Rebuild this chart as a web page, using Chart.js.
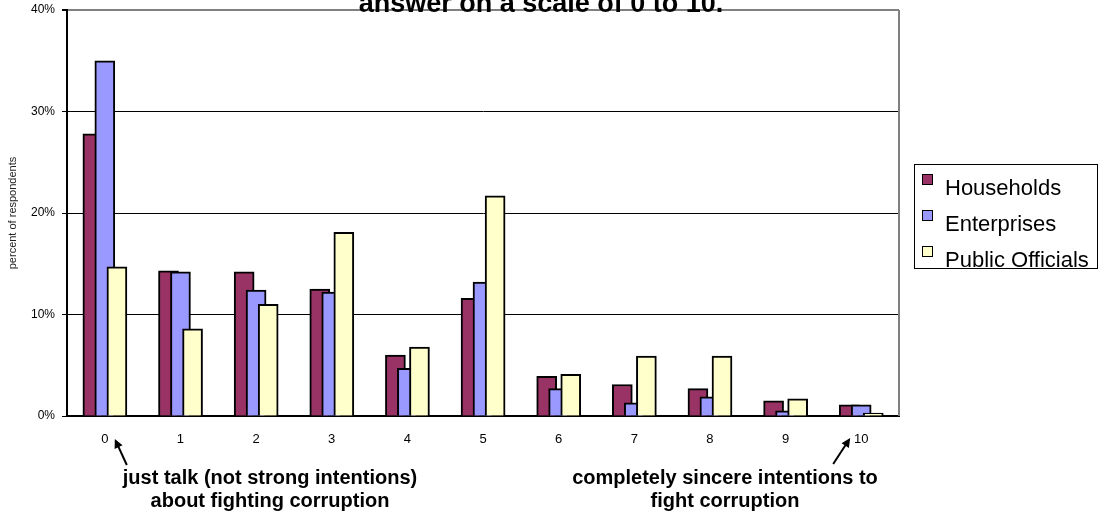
<!DOCTYPE html>
<html>
<head>
<meta charset="utf-8">
<script src="https://cdn.jsdelivr.net/npm/chart.js@4.4.1/dist/chart.umd.min.js"></script>
<style>
  body { margin: 0; background: #fff; }
  #wrap { position: relative; width: 1104px; height: 517px; }
  #legend {
    position: absolute; left: 914px; top: 164px; width: 182px; height: 103px;
    border: 1.5px solid #000; font-family: "Liberation Sans", Arial, sans-serif;
    font-size: 22px; color: #000;
  }
  .item { position: absolute; left: 0; white-space: nowrap; }
  .item span.box {
    position: absolute; left: 7px; top: 0; width: 9px; height: 9px;
    border: 1.5px solid #000;
  }
  .item span.txt { position: absolute; left: 30px; top: 3px; line-height: 22px; }
</style>
</head>
<body>
<div id="wrap">
  <canvas id="barChart" width="1104" height="517"></canvas>
  <div id="legend"></div>
</div>
<script>
// scale points 0..10
const categories = ['0', '1', '2', '3', '4', '5', '6', '7', '8', '9', '10'];

// percent of respondents
const households  = [27.8, 14.3, 14.2, 12.5, 6.0, 11.6, 3.9, 3.1, 2.7, 1.5, 1.1];
const enterprises = [35.0, 14.2, 12.4, 12.2, 4.7, 13.2, 2.7, 1.3, 1.9, 0.5, 1.1];
const officials   = [14.7,  8.6, 11.0, 18.1, 6.8, 21.7, 4.1, 5.9, 5.9, 1.7, 0.3];

const seriesNames  = ['Households', 'Enterprises', 'Public Officials'];
const seriesColors = ['#993366', '#9999FF', '#FFFFCC'];
const yTicks = [0, 10, 20, 30, 40];

const FONT = '"Liberation Sans", Arial, sans-serif';

// bars overlap like the old excel chart, later series on top
function makeSet(name, values, color, shift, order) {
	return {
		label: name,
		data: values.map((v, i) => ({ x: i + shift, y: v })),
		backgroundColor: color,
		borderColor: '#000',
		borderWidth: 2,
		barThickness: 20,
		grouped: false,
		order: order
	};
}

const frame = {
	id: 'frame',
	afterDraw(chart) {
		const { ctx, chartArea: a } = chart;
		ctx.save();
		// right edge of the plot area
		ctx.strokeStyle = '#808080';
		ctx.lineWidth = 2;
		ctx.beginPath();
		ctx.moveTo(a.right, a.top);
		ctx.lineTo(a.right, a.bottom);
		ctx.stroke();

		// title, only its last line is left in the picture
		ctx.fillStyle = '#000';
		ctx.font = 'bold 27px ' + FONT;
		ctx.textAlign = 'center';
		ctx.textBaseline = 'alphabetic';
		ctx.fillText('answer on a scale of 0 to 10.', 541, 12);

		// notes under the axis
		ctx.font = 'bold 20px ' + FONT;
		ctx.textBaseline = 'middle';
		ctx.fillText('just talk (not strong intentions)', 270, 478);
		ctx.fillText('about fighting corruption', 270, 501);
		ctx.fillText('completely sincere intentions to', 725, 478);
		ctx.fillText('fight corruption', 725, 501);

		const x = chart.scales.x;
		arrow(ctx, x.getPixelForValue(0) + 22, 465, x.getPixelForValue(0) + 10, 439);
		arrow(ctx, x.getPixelForValue(10) - 28, 464, x.getPixelForValue(10) - 11, 438);
		ctx.restore();
	}
};

function arrow(ctx, x0, y0, x1, y1) {
	const ang = Math.atan2(y1 - y0, x1 - x0);
	const len = 10;
	ctx.strokeStyle = '#000';
	ctx.lineWidth = 2;
	ctx.beginPath();
	ctx.moveTo(x0, y0);
	ctx.lineTo(x1 - Math.cos(ang) * 6, y1 - Math.sin(ang) * 6);
	ctx.stroke();
	ctx.beginPath();
	ctx.moveTo(x1, y1);
	ctx.lineTo(x1 - len * Math.cos(ang - 0.45), y1 - len * Math.sin(ang - 0.45));
	ctx.lineTo(x1 - len * Math.cos(ang + 0.45), y1 - len * Math.sin(ang + 0.45));
	ctx.closePath();
	ctx.fillStyle = '#000';
	ctx.fill();
}

let ctx = document.getElementById('barChart');
let barChart = new Chart(ctx, {
	type: 'bar',
	data: {
		datasets: [
			makeSet(seriesNames[0], households, seriesColors[0], -0.158, 3),
			makeSet(seriesNames[1], enterprises, seriesColors[1], 0, 2),
			makeSet(seriesNames[2], officials, seriesColors[2], 0.16, 1)
		]
	},
	options: {
		responsive: false,
		animation: false,
		layout: { padding: { left: 0, right: 205, top: 10, bottom: 0 } },
		plugins: {
			legend: { display: false },
			tooltip: { enabled: false }
		},
		scales: {
			x: {
				type: 'linear',
				offset: false,
				min: -0.5,
				max: categories.length - 0.5,
				afterBuildTicks: (s) => { s.ticks = categories.map((c, i) => ({ value: i })); },
				afterFit: (s) => { s.height = 101; },
				grid: { display: false },
				border: { display: true, color: '#000', width: 2 },
				ticks: {
					autoSkip: false,
					maxRotation: 0,
					padding: 8,
					color: '#000',
					font: { family: FONT, size: 13 },
					callback: (v) => categories[v]
				}
			},
			y: {
				min: 0,
				max: 40,
				afterBuildTicks: (s) => { s.ticks = yTicks.map(v => ({ value: v })); },
				afterFit: (s) => { s.width = 67; s.paddingTop = 0; s.paddingBottom = 0; },
				grid: {
					color: (c) => c.tick && c.tick.value === 40 ? '#808080' : '#000',
					lineWidth: (c) => c.tick && c.tick.value === 40 ? 2 : 1,
					tickLength: 5,
					tickColor: '#000'
				},
				border: { display: true, color: '#000', width: 2 },
				ticks: {
					padding: 7,
					color: '#000',
					font: { family: FONT, size: 12 },
					callback: (v) => v + '%'
				},
				title: {
					display: true,
					text: 'percent of respondents',
					color: '#222',
					padding: { top: 6, bottom: 0 },
					font: { family: FONT, size: 11 }
				}
			}
		}
	},
	plugins: [frame]
});

// legend box on the right
let legend = document.getElementById('legend');
seriesNames.forEach((name, i) => {
	let item = document.createElement('div');
	item.className = 'item';
	item.style.top = (9 + i * 36) + 'px';
	item.innerHTML = '<span class="box" style="background:' + seriesColors[i] + '"></span>' +
		'<span class="txt">' + name + '</span>';
	legend.appendChild(item);
});
</script>
</body>
</html>
